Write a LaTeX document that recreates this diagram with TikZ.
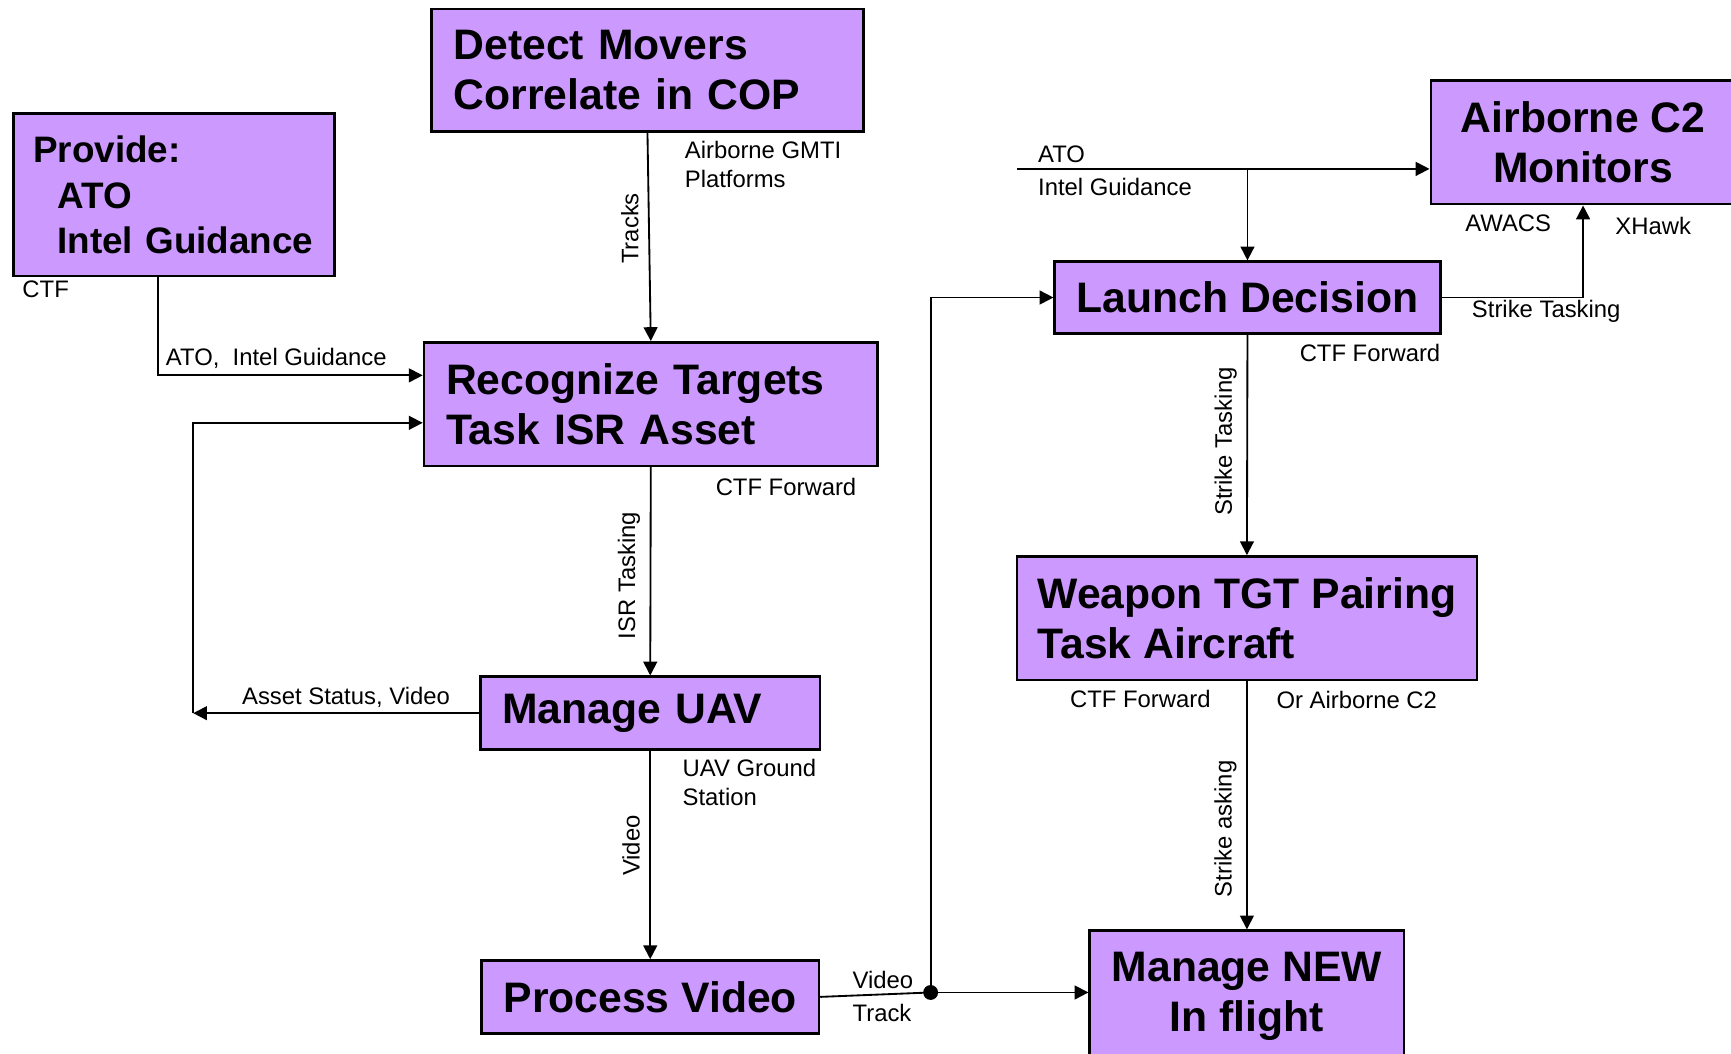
\documentclass[tikz,border=0pt]{standalone}
\usepackage{fontspec}
\setmainfont{Liberation Sans}
\usetikzlibrary{arrows.meta}
\definecolor{procfill}{HTML}{CC99FF}
\begin{document}
\begin{tikzpicture}
			[
				x                       = 0.02cm,
				y                       = -0.02cm,
				flow/.style             = {draw, line width=0.95pt, -{Triangle[length=0.25cm,width=0.25cm]}},
				link/.style             = {draw, line width=0.95pt},
				lbl/.style              = {inner sep=0pt, align=left, font=\fontsize{12.3}{14.8}\selectfont},
				vlbl/.style             = {lbl, rotate=90, anchor=south, inner ysep=0.17cm}
			]
			\tikzstyle{proc}=[draw, line width=1.3pt, fill=procfill, inner xsep=0.4cm, inner ysep=0pt, font=\bfseries\fontsize{22}{26}\selectfont]
			\tikzstyle{dot}=[circle, fill, inner sep=0pt, minimum size=0.27cm]
			\useasboundingbox (0,0) rectangle (1568,954);

			\node [proc, align=left, text width=7.02cm, minimum height=2.22cm] (detect) at (586.5,63.5) {Detect Movers\\Correlate in COP};
			\node [proc, align=left, text width=5.1cm, inner xsep=0.36cm, minimum height=2.94cm, font=\bfseries\fontsize{19}{23.5}\selectfont] (provide) at (157.5,176.5) {Provide:\\\hspace*{0.44cm}ATO\\\hspace*{0.44cm}Intel Guidance};
			\node [proc, align=left, text width=7.42cm, minimum height=2.24cm] (recognize) at (589.5,366) {Recognize Targets\\Task ISR Asset};
			\node [proc, align=left, text width=5.36cm, minimum height=1.32cm] (uav) at (589,646) {Manage UAV};
			\node [proc, align=center, minimum width=6.08cm, minimum height=1.32cm] (video) at (589,903) {Process Video};
			\node [proc, align=center, minimum width=5.52cm, minimum height=2.24cm] (airc2) at (1434,129) {Airborne C2\\Monitors};
			\node [proc, align=center, minimum width=6.92cm, minimum height=1.3cm] (launch) at (1130,269.5) {Launch Decision};
			\node [proc, align=left, inner xsep=0.2cm, minimum width=8.34cm, minimum height=2.24cm] (weapon) at (1129.5,560) {Weapon TGT Pairing\\Task Aircraft};
			\node [proc, align=center, minimum width=5.62cm, minimum height=2.38cm] (newflight) at (1129.5,902.5) {Manage NEW\\In flight};

			\node [lbl, anchor=west] (ctf) at (20,262) {CTF};
			\node [lbl, anchor=west] (atoguid) at (150,325) {ATO,\ \ Intel Guidance};
			\node [lbl, anchor=west] (gmti) at (620,149) {Airborne GMTI\\Platforms};
			\node [lbl, anchor=west] (ctffwdA) at (648,441) {CTF Forward};
			\node [lbl, anchor=west] (assetvid) at (219,632) {Asset Status, Video};
			\node [lbl, anchor=west] (ground) at (618,709) {UAV Ground\\Station};
			\node [lbl, anchor=west] (videolbl) at (772,888) {Video};
			\node [lbl, anchor=west] (tracklbl) at (772,918) {Track};
			\node [lbl, anchor=west] (atoB) at (940,140) {ATO};
			\node [lbl, anchor=west] (guidB) at (940,169) {Intel Guidance};
			\node [lbl, anchor=west] (awacs) at (1327,202) {AWACS};
			\node [lbl, anchor=west] (xhawk) at (1463,205) {XHawk};
			\node [lbl, anchor=west] (strikeB) at (1333,282) {Strike Tasking};
			\node [lbl, anchor=west] (ctffwdB) at (1177,320) {CTF Forward};
			\node [lbl, anchor=west] (ctffwdC) at (969,633) {CTF Forward};
			\node [lbl, anchor=west] (orc2) at (1156,634) {Or Airborne C2};

			\coordinate (ctfbend) at (143,340);
			\coordinate (loopleft) at (175,647);
			\coordinate (looptop) at (175,383);
			\coordinate (atoin) at (921,153);
			\node [dot] (junction) at (843,899) {};

			\draw [flow] (detect.south) -- node [vlbl, pos=.46] (tracks) {Tracks} (recognize.north);
			\draw [flow] (provide.south -| ctfbend) |- (recognize.west |- ctfbend);
			\draw [flow] (uav.west) -- (uav.west -| loopleft);
			\draw [flow] (uav.west -| loopleft) -- (looptop) -- (recognize.west |- looptop);
			\draw [flow] (recognize.south) -- node [vlbl, pos=.52] (isrtask) {ISR Tasking} (uav.north);
			\draw [flow] (uav.south) -- node [vlbl, pos=.455] (videofeed) {Video} (video.north);
			\draw [link] (video.east) -- (junction.center);
			\draw [flow] (junction.center) -- (newflight.west |- junction);
			\draw [flow] (junction.center) |- (launch.west);
			\draw [flow] (atoin) -- (airc2.west |- atoin);
			\draw [flow] (launch.north |- atoin) -- (launch.north);
			\draw [flow] (launch.east) -| (airc2.south);
			\draw [flow] (launch.south) -- node [vlbl, pos=.485] (strikeA) {Strike Tasking} (weapon.north);
			\draw [flow] (weapon.south) -- node [vlbl, pos=.595] (strikeC) {Strike asking} (newflight.north);
		\end{tikzpicture}
\end{document}
